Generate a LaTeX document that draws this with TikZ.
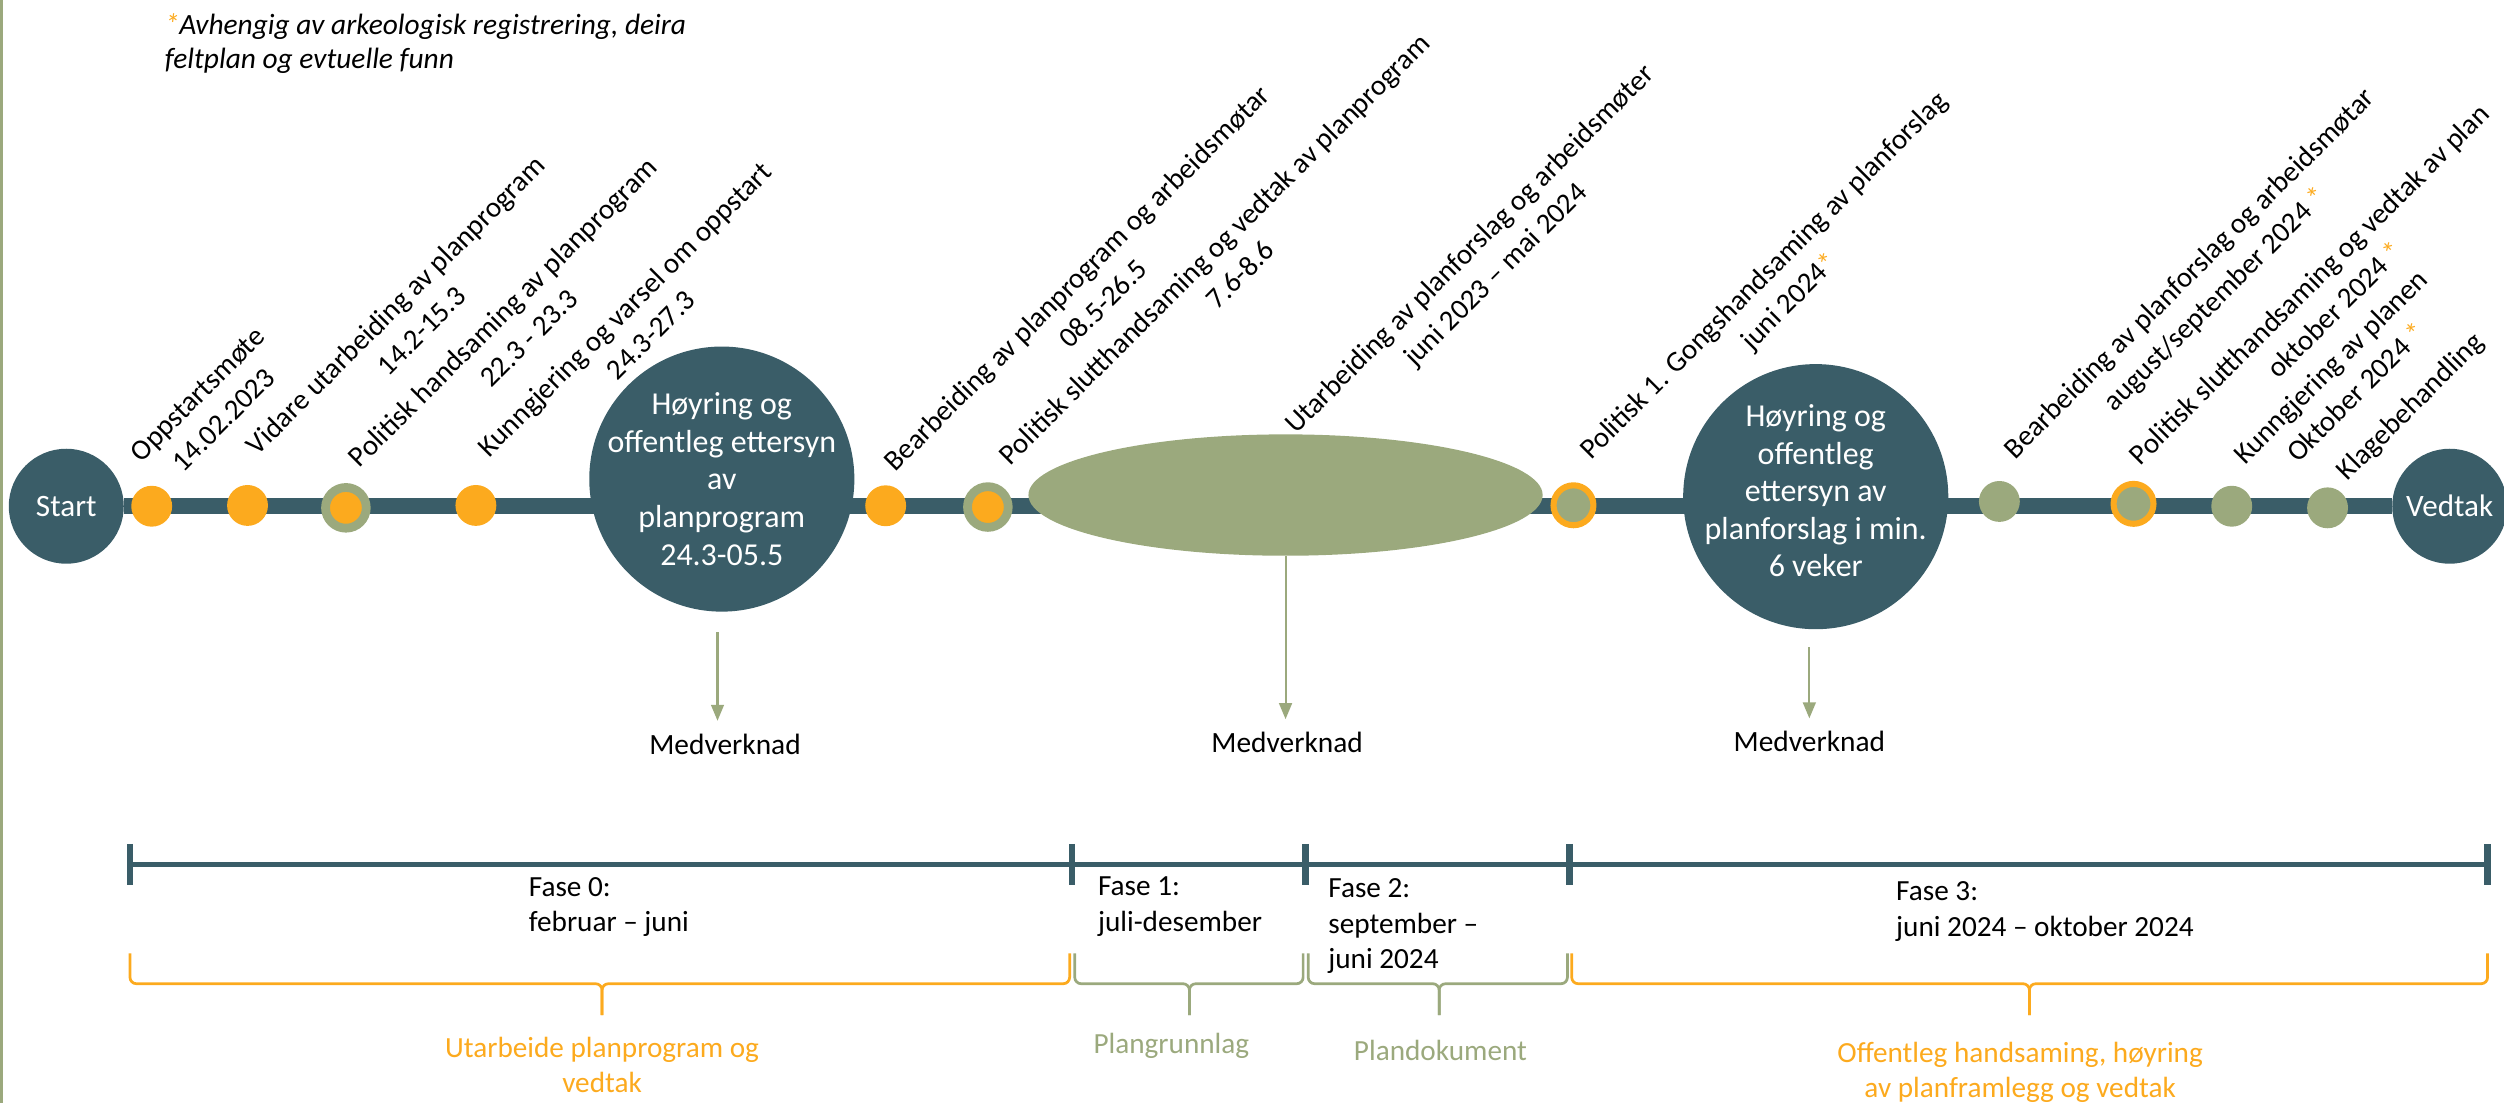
\documentclass[tikz,border=0pt]{standalone}
\usepackage{fontspec}
\setmainfont{Carlito}
\usetikzlibrary{shapes.geometric,arrows.meta}
\definecolor{teal1}{HTML}{3A5D68}
\definecolor{olive1}{HTML}{9BA97D}
\definecolor{orng}{HTML}{FCAA1E}
\newcommand{\ostar}{\textcolor{orng}{*}}
\newcommand{\phbrace}[4]{%
  \draw[#1, line width=1.7, rounded corners=4pt] (#2,597) -- (#2,616) -- (#3,616) -- (#3,635.7);
  \draw[#1, line width=1.7, rounded corners=4pt] (#4,597) -- (#4,616) -- (#3,616) -- (#3,635.7);}
\begin{document}
\begin{tikzpicture}[x=1pt,y=-1pt,
  lbl/.style={rotate=45, align=center, inner sep=0, font=\fontsize{18.1}{22.8}\selectfont},
  dotO/.style={circle, fill=orng, minimum size=25.6, inner sep=0},
  dotG/.style={circle, fill=olive1, minimum size=25.6, inner sep=0},
  ringG/.style={circle, fill=orng, draw=olive1, line width=5.5, minimum size=25.5, inner sep=0},
  ringO/.style={circle, fill=olive1, draw=orng, line width=3.8, minimum size=25, inner sep=0},
  big/.style={circle, fill=teal1, minimum size=166, inner sep=0},
  endc/.style={circle, fill=teal1, minimum size=72, inner sep=0, text=white, font=\fontsize{19.5}{23}\selectfont},
  ctext/.style={text=white, align=center, inner sep=0, font=\fontsize{20}{23.5}\selectfont},
  med/.style={inner sep=0, font=\fontsize{18.4}{22}\selectfont},
  arr/.style={draw=olive1, line width=1.3, shorten >=8pt, -{Triangle[length=10pt,width=8pt]}},
  phase/.style={align=left, anchor=north west, inner sep=0, font=\fontsize{18.3}{22.3}\selectfont},
  brlab/.style={align=center, anchor=north, inner sep=0, font=\fontsize{18.3}{22.3}\selectfont},
  tick/.style={draw=teal1, line width=4}]
\useasboundingbox (0,0) rectangle (1568,690.7);
\draw[olive1, line width=1.5] (1,0) -- (1,690.7);

% footnote
\node[align=left, anchor=north west, inner sep=0, font=\fontsize{18.4}{21.4}\selectfont\itshape] (note) at (103,8.4)
  {\ostar Avhengig av arkeologisk registrering, deira\\feltplan og evtuelle funn};

% main timeline
\node[endc] (start) at (41.5,317) {Start};
\node[endc] (vedtak) at (1534,317) {Vedtak};
\draw[teal1, line width=10] (start) -- (vedtak);

\node[dotO] (d1) at (95,317) {};
\node[dotO] (d2) at (155,316.5) {};
\node[ringG] (d3) at (216.6,318) {};
\node[dotO] (d4) at (298,316.5) {};
\node[big] (c1) at (452,300) {};
\node[ctext] (c1t) at (452,300) {Høyring og\\offentleg ettersyn\\av\\planprogram\\24.3-05.5};
\node[dotO] (d5) at (554.6,316.7) {};
\node[ringG] (d6) at (618.6,317.5) {};
\node[ellipse, fill=olive1, minimum width=322, minimum height=76, inner sep=0] (ell) at (805,310) {};
\node[ringO] (d7) at (985.3,316.4) {};
\node[big] (c2) at (1137,311) {};
\node[ctext] (c2t) at (1137,307.5) {Høyring og\\offentleg\\ettersyn av\\planforslag i min.\\6 veker};
\node[dotG] (d8) at (1252,314) {};
\node[ringO] (d9) at (1336,315.5) {};
\node[dotG] (d10) at (1397.5,317) {};
\node[dotG] (d11) at (1457.5,318) {};

% rotated labels
\node[lbl] (l1) at (131.8,254.9) {Oppstartsmøte\\14.02.2023};
\node[lbl] (l2) at (255.6,199.0) {Vidare utarbeiding av planprogram\\14.2-15.3};
\node[lbl] (l3) at (322.8,203.5) {Politisk handsaming av planprogram\\22.3 - 23.3};
\node[lbl] (l4) at (399.1,201.6) {Kunngjering og varsel om oppstart\\24.3-27.3};
\node[lbl] (l5) at (682.3,182.0) {Bearbeiding av planprogram og arbeidsmøtar\\08.5-26.5};
\node[lbl] (l6) at (768.4,163.8) {Politisk slutthandsaming og vedtak av planprogram\\7.6-8.6};
\node[lbl] (l7) at (929.0,164.6) {Utarbeiding av planforslag og arbeidsmøter\\juni 2023 – mai 2024};
\node[lbl] (l8) at (1113.1,181.2) {Politisk 1. Gongshandsaming av planforslag\\juni 2024\ostar};
\node[lbl] (l9) at (1379.7,180.0) {Bearbeiding av planforslag og arbeidsmøtar\\august/september 2024 \ostar};
\node[lbl] (l10) at (1454.0,185.9) {Politisk slutthandsaming og vedtak av plan\\oktober 2024 \ostar};
\node[lbl] (l11) at (1467.2,237.5) {Kunngjering av planen\\Oktober 2024 \ostar};
\node[lbl] (l12) at (1509.8,255.2) {Klagebehandling};

% Medverknad
\node[med] (m1) at (454,466) {Medverknad};
\node[med] (m2) at (806,465) {Medverknad};
\node[med] (m3) at (1133,464.5) {Medverknad};
\coordinate (a1) at (449.3,396);
\coordinate (a3) at (1133,405.2);
\draw[arr] (a1) -- (a1 |- m1.north);
\draw[arr] (ell.south) -- (ell.south |- m2.north);
\draw[arr] (a3) -- (a3 |- m3.north);

% phase bar
\coordinate (t0) at (81.4,541.4);
\coordinate (t4) at (1557.7,541.4);
\draw[teal1, line width=2.8] (t0) -- (t4);
\foreach \x in {81.4,671.4,817.6,982.8,1557.7} \draw[tick] (\x,528.5) -- (\x,554);

\node[phase] (f0) at (331,549) {Fase 0:\\februar – juni};
\node[phase] (f1) at (687.4,549) {Fase 1:\\juli-desember};
\node[phase] (f2) at (831.6,550) {Fase 2:\\september –\\juni 2024};
\node[phase] (f3) at (1187.2,552) {Fase 3:\\juni 2024 – oktober 2024};

% braces
\phbrace{orng}{81.4}{377}{669.8}
\phbrace{olive1}{673}{744.8}{816}
\phbrace{olive1}{819.2}{901.2}{981.5}
\phbrace{orng}{984.2}{1270.8}{1557.7}

\node[brlab, text=orng] (b0) at (377,649) {Utarbeide planprogram og\\vedtak};
\node[brlab, text=olive1] (b1) at (733.5,646.5) {Plangrunnlag};
\node[brlab, text=olive1] (b2) at (902,651.3) {Plandokument};
\node[brlab, text=orng] (b3) at (1265,652.3) {Offentleg handsaming, høyring\\av planframlegg og vedtak};
\end{tikzpicture}
\end{document}
